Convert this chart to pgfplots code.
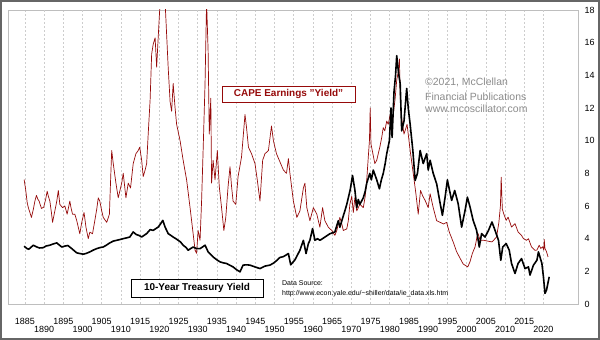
\documentclass[border=0pt]{standalone}
\usepackage{pgfplots}
\pgfplotsset{compat=1.18}
\usepackage{fontspec}
\setmainfont{Liberation Sans}
\definecolor{capered}{RGB}{150,10,10}
\definecolor{gridgray}{RGB}{205,205,205}
\definecolor{framegray}{RGB}{190,190,190}
\definecolor{copygray}{RGB}{140,140,140}
\begin{document}
\begin{tikzpicture}
\useasboundingbox (0,0) rectangle (600bp,340bp);
\fill[white] (0,0) rectangle (600bp,340bp);
\begin{axis}[
  at={(8bp,36bp)}, anchor=south west,
  scale only axis, width=570bp, height=294bp,
  xmin=1880.6, xmax=2029, ymin=0, ymax=18,
  axis line style={draw=framegray, line width=0.8bp},
  xtick={1885,1895,...,2015},
  extra x ticks={1890,1900,...,2020},
  extra x tick style={grid=major, xticklabel style={yshift=-8bp}},
  xmajorgrids, ymajorgrids=false,
  major grid style={draw=gridgray, dash pattern=on 2bp off 2bp, line width=0.6bp},
  major tick length=0pt,
  ytick={0,2,...,18},
  yticklabel pos=right,
  /pgf/number format/1000 sep={},
  /pgf/number format/assume math mode=true,
  xticklabel style={font=\fontsize{9}{10}\selectfont, yshift=-11bp},
  yticklabel style={font=\fontsize{9}{10}\selectfont, xshift=3bp},
  clip=true,
]
% CAPE earnings yield
\addplot[color=capered, line width=0.7bp, line join=round] coordinates {
(1884.8,7.62)(1885.2,7.0)(1885.6,6.2)(1885.9,5.9)(1886.3,5.6)(1886.7,5.3)(1887.2,5.8)(1887.6,6.3)
(1888.0,6.65)(1888.4,6.4)(1888.7,6.3)(1889.3,5.85)(1889.9,5.93)(1890.4,6.4)(1890.8,6.91)(1891.1,6.6)
(1891.5,6.3)(1891.9,5.6)(1892.2,5.0)(1892.8,5.7)(1893.3,6.3)(1893.7,6.95)(1894.1,6.1)(1894.8,5.9)
(1895.4,6.0)(1896.0,5.5)(1896.7,6.3)(1897.0,5.9)(1897.4,5.5)(1898.0,5.5)(1898.5,5.1)(1899.0,4.6)
(1899.3,4.3)(1899.8,5.0)(1900.4,5.6)(1900.9,4.7)(1901.5,4.0)(1901.9,4.4)(1902.6,4.3)(1903.2,5.1)
(1903.7,5.8)(1904.1,6.5)(1904.5,6.3)(1905.0,5.7)(1905.4,5.3)(1906.3,5.0)(1907.0,5.5)(1907.3,7.5)
(1907.6,9.4)(1908.0,8.6)(1908.7,7.4)(1909.3,6.5)(1909.8,7.0)(1910.2,7.4)(1910.6,8.0)(1911.3,6.5)
(1911.9,7.4)(1912.5,7.1)(1913.2,8.6)(1913.9,9.2)(1914.5,9.4)(1914.9,9.6)(1915.4,8.8)(1915.8,7.8)
(1916.3,8.2)(1916.7,8.6)(1917.1,10.4)(1917.6,12.5)(1918.0,15.3)(1918.4,15.9)(1918.9,16.3)(1919.3,14.5)
(1919.7,16.3)(1920.2,18.5)(1921.5,18.5)(1921.9,16.5)(1922.3,14.5)(1922.8,12.4)(1923.2,11.8)(1923.6,13.5)
(1924.1,12.0)(1924.5,11.0)(1925.4,10.0)(1926.2,8.8)(1927.1,7.6)(1928.0,5.9)(1928.8,4.3)(1929.3,3.3)
(1929.7,3.1)(1930.1,4.5)(1930.6,3.9)(1931.0,6.3)(1931.4,9.4)(1931.9,13.5)(1932.3,18.5)(1932.7,15.5)
(1933.0,10.4)(1933.4,12.6)(1933.6,7.4)(1934.0,8.8)(1934.5,7.6)(1935.1,9.4)(1935.6,7.2)(1936.2,5.9)
(1936.8,4.5)(1937.3,5.3)(1937.9,7.2)(1938.4,8.4)(1938.8,7.2)(1939.2,6.3)(1939.9,6.1)(1940.5,7.8)
(1941.4,9.0)(1942.3,11.6)(1942.7,10.8)(1943.2,9.6)(1944.0,9.2)(1944.9,8.6)(1945.5,7.6)(1946.2,6.3)
(1946.9,8.8)(1947.5,9.2)(1948.4,9.4)(1949.2,10.9)(1949.7,10.0)(1950.5,9.2)(1951.4,8.7)(1952.3,8.2)
(1953.1,8.0)(1953.6,8.9)(1954.0,8.0)(1954.9,6.3)(1955.8,5.3)(1956.6,5.7)(1957.5,7.1)(1957.9,7.4)
(1958.4,5.9)(1959.2,5.1)(1960.1,5.9)(1961.0,5.5)(1961.8,4.7)(1962.5,5.9)(1963.1,5.1)(1964.0,4.7)
(1964.9,4.5)(1965.7,4.2)(1966.2,4.5)(1967.0,5.3)(1967.5,4.9)(1967.9,4.5)(1968.8,4.6)(1969.2,5.1)
(1969.6,6.1)(1970.1,6.6)(1970.5,5.6)(1970.9,6.5)(1971.4,5.7)(1972.2,6.1)(1973.1,5.9)(1973.6,6.6)
(1974.0,7.6)(1974.4,9.0)(1974.7,10.0)(1974.9,12.0)(1975.1,9.8)(1975.6,9.2)(1976.1,8.6)(1976.6,8.8)
(1977.4,9.6)(1977.9,10.2)(1978.3,10.8)(1978.7,10.6)(1979.2,11.2)(1979.6,11.0)(1980.1,11.6)(1980.3,10.6)
(1980.8,11.4)(1981.4,12.6)(1981.8,13.7)(1982.2,14.2)(1982.5,15.0)(1982.8,12.0)(1983.2,11.2)(1983.7,10.4)
(1984.5,11.0)(1985.3,9.4)(1986.1,8.0)(1986.8,6.75)(1987.4,5.5)(1988.0,6.95)(1988.6,6.6)(1989.2,6.34)
(1990.0,5.9)(1990.5,6.75)(1991.3,5.9)(1992.2,5.1)(1993.1,5.0)(1994.0,4.9)(1994.8,5.0)(1995.5,4.4)
(1996.5,3.8)(1997.4,3.2)(1998.3,2.8)(1999.1,2.45)(2000.3,2.27)(2000.9,2.6)(2001.5,3.1)(2002.2,3.5)
(2002.7,4.1)(2003.0,4.3)(2003.5,3.9)(2004.5,3.9)(2005.5,3.85)(2006.6,3.8)(2007.8,4.1)(2008.4,5.0)
(2008.8,6.0)(2009.0,7.76)(2009.3,5.8)(2009.7,5.5)(2010.3,5.12)(2010.8,5.32)(2011.7,4.71)(2012.6,4.92)
(2013.4,4.41)(2014.3,4.2)(2014.8,4.0)(2015.6,3.9)(2016.1,4.0)(2016.9,3.49)(2017.8,3.29)(2018.3,3.3)
(2018.9,3.6)(2019.3,3.4)(2019.8,3.5)(2020.1,3.3)(2020.2,3.95)(2020.4,3.4)(2020.8,3.2)(2021.2,2.88)
};
% 10-year Treasury yield
\addplot[color=black, line width=1.6bp, line join=round] coordinates {
(1884.8,3.54)(1885.5,3.4)(1886.0,3.35)(1887.2,3.6)(1888.0,3.5)(1888.8,3.43)(1889.8,3.45)(1890.5,3.55)
(1891.5,3.6)(1892.4,3.68)(1893.3,3.74)(1894.0,3.6)(1894.6,3.49)(1895.5,3.55)(1896.2,3.58)(1897.2,3.39)
(1898.5,3.13)(1899.5,3.08)(1900.2,3.05)(1901.0,3.1)(1901.9,3.19)(1902.8,3.3)(1903.7,3.39)(1904.5,3.45)
(1905.4,3.49)(1906.2,3.6)(1907.1,3.74)(1908.0,3.85)(1908.9,3.9)(1909.8,3.95)(1910.6,4.0)(1911.5,4.05)
(1912.3,4.1)(1913.2,4.41)(1914.0,4.25)(1914.7,4.2)(1915.4,4.1)(1916.0,4.2)(1916.7,4.31)(1917.6,4.55)
(1918.4,4.51)(1919.0,4.6)(1919.7,4.71)(1920.3,4.9)(1920.9,5.12)(1921.5,4.71)(1922.3,4.31)(1923.0,4.2)
(1923.6,4.1)(1924.3,4.0)(1924.9,3.9)(1925.5,3.8)(1926.2,3.6)(1927.0,3.45)(1927.5,3.29)(1928.2,3.4)
(1928.8,3.49)(1929.7,3.39)(1930.6,3.39)(1931.3,3.5)(1931.9,3.6)(1932.3,3.4)(1932.7,3.19)(1933.3,3.05)
(1934.0,2.88)(1935.0,2.7)(1935.8,2.58)(1936.6,2.52)(1937.5,2.48)(1938.3,2.38)(1939.2,2.27)(1940.1,2.1)
(1941.0,1.97)(1941.8,2.38)(1942.7,2.4)(1943.6,2.38)(1944.9,2.27)(1946.2,2.17)(1947.5,2.32)(1948.8,2.38)
(1949.7,2.5)(1950.5,2.65)(1951.4,2.85)(1952.3,2.9)(1953.0,3.0)(1953.6,3.09)(1954.2,2.4)(1955.3,2.7)
(1956.6,3.29)(1957.5,3.9)(1958.2,3.09)(1958.8,3.7)(1959.2,3.9)(1959.9,4.62)(1960.5,3.9)(1961.2,4.0)
(1961.8,3.9)(1962.5,4.0)(1963.1,4.1)(1964.4,4.3)(1965.7,4.41)(1966.2,4.8)(1966.6,5.1)(1967.0,4.7)
(1967.9,5.4)(1968.3,5.7)(1968.8,6.1)(1969.2,6.5)(1969.7,7.0)(1970.3,7.87)(1970.9,7.0)(1971.4,5.9)
(1971.8,6.4)(1972.2,6.1)(1973.1,6.5)(1973.6,6.9)(1974.0,7.4)(1974.8,8.0)(1975.2,7.6)(1975.7,8.2)
(1976.6,7.6)(1977.3,7.05)(1977.8,7.6)(1978.3,8.0)(1978.8,8.6)(1979.2,9.2)(1979.9,10.0)(1980.3,12.0)
(1980.6,10.2)(1981.1,13.0)(1981.5,14.0)(1981.8,15.2)(1982.3,14.1)(1982.7,13.5)(1983.1,10.6)(1983.7,11.2)
(1984.4,13.2)(1984.8,12.0)(1985.3,11.0)(1986.0,9.4)(1986.6,7.56)(1987.2,8.0)(1987.9,9.4)(1988.7,8.6)
(1989.6,9.2)(1990.0,8.2)(1990.5,8.8)(1991.3,8.0)(1992.2,7.36)(1993.0,6.3)(1993.7,5.43)(1994.4,6.54)
(1995.0,7.6)(1995.2,7.36)(1996.1,6.34)(1996.9,6.95)(1997.8,6.14)(1998.7,4.71)(1999.6,5.73)(2000.2,6.54)
(2000.9,5.93)(2001.7,5.12)(2002.6,4.51)(2003.3,3.49)(2003.9,4.31)(2004.8,4.1)(2005.7,4.51)(2006.6,5.02)
(2007.4,4.51)(2008.3,3.9)(2008.9,2.68)(2009.4,3.49)(2010.3,3.7)(2011.1,3.29)(2011.7,2.48)(2012.6,1.87)
(2013.4,2.48)(2014.3,2.78)(2015.2,2.17)(2016.1,2.27)(2016.5,1.77)(2017.4,2.38)(2018.3,2.68)(2018.7,3.19)
(2019.6,2.48)(2020.0,1.66)(2020.4,0.65)(2020.8,0.85)(2021.5,1.66)
};
\end{axis}
% outer frame
\draw[line width=2bp, color=gray!80!black] (1bp,1bp) rectangle (599bp,339bp);
% annotations
\node[draw=capered, line width=0.8bp, fill=white, text=capered, font=\bfseries\fontsize{10}{12}\selectfont,
      minimum width=133bp, minimum height=16bp, inner sep=0pt] at (288.5bp,246bp) {CAPE Earnings "Yield"};
\node[draw=black, line width=0.9bp, fill=white, font=\bfseries\fontsize{10}{12}\selectfont,
      minimum width=132bp, minimum height=18bp, inner sep=0pt] at (197bp,52bp) {10-Year Treasury Yield};
\node[anchor=base west, inner sep=0pt, font=\fontsize{7}{8}\selectfont] at (282bp,54.5bp) {Data Source:};
\node[anchor=base west, inner sep=0pt, font=\fontsize{7}{8}\selectfont] at (282bp,44.5bp) {http://www.econ.yale.edu/\textasciitilde shiller/data/ie\_data.xls.htm};
\node[anchor=base west, inner sep=0pt, text=copygray, font=\fontsize{10.5}{12}\selectfont] at (425bp,254bp) {©2021, McClellan};
\node[anchor=base west, inner sep=0pt, text=copygray, font=\fontsize{10.5}{12}\selectfont] at (425bp,239.5bp) {Financial Publications};
\node[anchor=base west, inner sep=0pt, text=copygray, font=\fontsize{10.5}{12}\selectfont] at (425bp,227bp) {www.mcoscillator.com};
\end{tikzpicture}
\end{document}
